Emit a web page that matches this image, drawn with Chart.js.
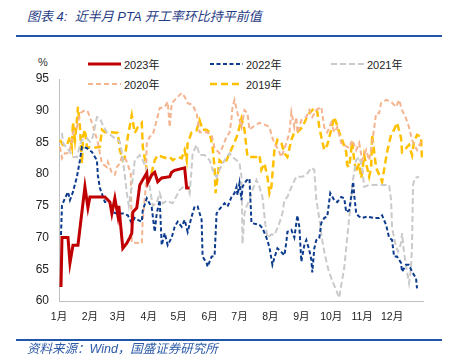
<!DOCTYPE html>
<html>
<head>
<meta charset="utf-8">
<script src="https://cdn.jsdelivr.net/npm/chart.js@4.4.0/dist/chart.umd.min.js"></script>
<style>
  body { margin: 0; width: 452px; height: 363px; background: #fff; position: relative; overflow: hidden;
         font-family: "Liberation Sans", Arial, "Noto Sans CJK SC", sans-serif; }
  .title { position: absolute; left: 27px; top: 9px; font-size: 13px; line-height: 16px; font-style: italic;
           color: #1f3c84; white-space: pre; font-family: "Liberation Sans", "Noto Sans CJK SC", sans-serif; }
  .rule { position: absolute; left: 16px; width: 426px; background: #1f56a8; }
  .source { position: absolute; left: 27px; top: 342px; font-size: 12.5px; line-height: 15px; font-style: italic;
            color: #2c5aa6; white-space: pre; font-family: "Liberation Sans", "Noto Sans CJK SC", sans-serif; }
  .unit { position: absolute; left: 38px; top: 56px; font-size: 11px; color: #333; }
  .leg { position: absolute; display: flex; align-items: center; font-size: 11px; color: #222; height: 14px; }
  .leg svg { margin-right: 3px; }
  canvas { position: absolute; left: 0; top: 0; }
</style>
</head>
<body>
<div class="title">图表 4:  近半月 PTA 开工率环比持平前值</div>
<div class="rule" style="top:35px;height:2px"></div>
<div class="unit">%</div>
<div id="legend"></div>
<canvas id="c" width="452" height="363"></canvas>
<div class="rule" style="top:339px;height:1.5px"></div>
<div class="source">资料来源：Wind，国盛证券研究所</div>

<script>
// month start (day of year) and labels
const monthStarts = [0, 31, 59, 90, 120, 151, 181, 212, 243, 273, 304, 334];
const monthLabels = ['1月', '2月', '3月', '4月', '5月', '6月', '7月', '8月', '9月', '10月', '11月', '12月'];
const yTicks = [60, 65, 70, 75, 80, 85, 90, 95];

// [day of year, operating rate %]
const y2023 = [[2,62.2],[3,70],[9,70],[11,66],[14,68.8],[19,68.8],[26,78],[29,74.7],[31,76.4],[39,76.4],[46,76.4],[51,75.6],[53,73.8],[56,76.2],[59,73.5],[60,75],[64,68.3],[68,69.1],[71,70],[73,70.7],[74,74],[78,74.7],[81,78.3],[85,79.4],[88,80.2],[89,78.6],[93,79.9],[96,80.3],[99,78.8],[103,79.4],[111,79.6],[113,80.3],[116,80.6],[126,81],[128,77.8],[131,77.8]];

const y2022 = [[2,70.4],[3,75.1],[6,76.2],[9,77.2],[11,75.9],[14,77.2],[18,79.6],[21,82.2],[23,84.3],[28,84.1],[33,83.5],[38,82.2],[39,79.8],[41,77.8],[46,75.6],[51,75.6],[53,74],[58,73.8],[64,73.8],[69,73.5],[73,72.3],[76,73.1],[79,72.8],[83,72.5],[84,74.3],[88,76.2],[93,74.7],[96,70.9],[98,73.8],[101,75.9],[103,68.8],[106,70.7],[109,68.8],[113,70],[116,71.7],[119,72.5],[123,71.7],[126,72.8],[129,70.9],[133,73.3],[136,74.9],[139,74.9],[143,72.8],[144,67],[148,66],[149,65.4],[153,67],[156,67.1],[158,73.8],[161,74.5],[166,75.4],[169,74.9],[173,76.4],[176,77],[178,78],[179,76.7],[181,78.6],[183,75.9],[184,78],[188,79],[191,79.3],[193,72.3],[201,72],[204,71.5],[208,70],[211,68.5],[214,65.7],[216,66.8],[219,68.3],[223,67.7],[226,67.2],[228,69.3],[229,70.9],[233,71.2],[236,70],[239,73.5],[241,71.7],[243,66.2],[246,68.8],[248,69.6],[251,68],[253,66.5],[254,64.5],[256,68.3],[258,69.6],[261,69.9],[263,72.3],[266,73.1],[269,73.3],[272,77],[276,75.9],[279,75.6],[283,76.4],[286,76.2],[288,74],[291,74.3],[294,77.5],[295,78.8],[296,76.7],[298,73.8],[301,73.3],[304,73.1],[309,73.3],[316,73.1],[321,73.1],[324,73.5],[328,72],[331,70],[334,69.6],[336,67],[339,67],[343,66],[344,64.6],[348,65.7],[351,65.7],[354,64.6],[358,63.6],[359,62]];

const y2021 = [[3,86.5],[4,84.9],[8,84.1],[11,83.5],[14,82.7],[18,82.7],[21,84.6],[23,85.4],[28,85.7],[31,85.1],[34,85.9],[38,89],[41,88.8],[44,87.7],[48,86.6],[54,85.9],[61,85.1],[64,82.5],[68,77],[70,75],[73,78],[76,82.2],[81,83],[84,82.2],[88,80.7],[91,78],[94,75],[98,75.5],[101,77],[104,75.4],[108,75.8],[114,75.4],[121,77.5],[128,78.5],[131,77],[133,81],[134,83.3],[138,84.6],[141,83],[146,83],[151,82.2],[154,80.7],[158,79.5],[161,80.7],[166,82.2],[171,83.3],[174,82.7],[178,82.2],[181,81.7],[183,79.6],[184,69],[186,73.8],[188,74.9],[191,75.9],[194,77.5],[198,79.1],[201,78],[204,76.4],[207,72],[209,70],[213,70.5],[216,70.4],[219,71.5],[221,72.3],[224,73.8],[226,75.9],[229,76.4],[234,78.3],[238,79.6],[244,79.6],[248,79.9],[253,81],[256,80.7],[258,76],[261,73],[264,69.5],[267,67],[270,65],[273,63.6],[278,61.7],[281,60.5],[283,62.5],[286,65.2],[289,70],[291,73.1],[293,76.2],[294,78.3],[298,82.2],[301,82.7],[304,81.1],[306,78],[311,78.3],[331,78.3],[333,75.9],[334,71.5],[338,68.5],[340,67.8],[343,69.1],[344,70.7],[346,67.6],[349,64.6],[351,62.8],[353,65.2],[354,68.8],[355,78.3],[357,79.4],[361,79.6]];

const y2020 = [[1,84.3],[3,82.5],[6,83.3],[10,83.3],[13,85.4],[14,86.6],[18,87.4],[21,89.6],[26,90.1],[29,89.8],[33,88.1],[36,86.6],[39,84.9],[43,81.7],[48,81.1],[49,81.9],[53,80.2],[56,79.9],[58,81.1],[61,81.7],[63,82.7],[66,82.7],[69,81.5],[72,80],[73,69.2],[83,69.1],[84,72.8],[87,78],[88,84.9],[91,85.9],[94,86.2],[98,88.5],[101,90.4],[106,90.6],[109,91.4],[111,87.4],[113,91.2],[118,92],[123,92.8],[126,92.2],[129,91.2],[134,90.9],[138,89.6],[141,86.6],[148,86.6],[153,86.2],[156,84.1],[161,83.3],[164,84.3],[168,85.9],[171,86.5],[173,88.8],[174,90.6],[176,91.7],[179,89.6],[183,87.4],[186,90.1],[189,89.6],[191,87],[194,87.4],[201,88.1],[208,87.7],[211,87.4],[214,85.7],[216,84.9],[219,84.1],[223,82.7],[228,84.9],[231,86.5],[233,89.8],[236,87.4],[238,89],[239,86.5],[243,88.5],[248,89],[251,90.1],[254,89],[258,90.1],[263,90.6],[266,87.4],[269,86.6],[273,88.1],[276,86.6],[279,87.4],[283,84.9],[286,84.6],[291,84.1],[294,85.4],[298,83.8],[301,84.9],[304,82.2],[308,83.8],[311,82.2],[314,84.9],[318,89.6],[321,89.6],[323,91.2],[328,91.7],[333,91.4],[338,90.6],[341,91.7],[344,90.1],[348,88.8],[351,87.4],[354,85.4],[359,83.8],[363,85.1]];

const y2019 = [[1,85.4],[4,84.6],[8,84.6],[11,85.9],[13,84.3],[14,88.2],[16,85.4],[18,88.5],[19,90.6],[21,87.4],[23,81.7],[24,85.9],[26,87],[28,84.3],[33,84.1],[41,84.3],[43,87],[46,86.6],[51,86.6],[59,86.5],[61,83.8],[64,82.2],[66,82.7],[69,85.9],[73,89.3],[76,86.5],[79,87.4],[83,88.1],[84,84.3],[88,80.7],[89,79.1],[93,80.3],[96,82.2],[99,83],[104,82.7],[108,82.5],[111,82.7],[114,82.2],[119,82.7],[123,82.5],[126,83.8],[128,82.2],[129,84.9],[133,86.6],[138,86.9],[141,88.5],[144,87],[148,87],[151,86.6],[154,84.3],[156,81],[157,77],[159,79.6],[161,82.2],[164,81.7],[168,82.2],[171,83.3],[174,84.3],[179,86.2],[183,88.8],[186,87],[189,82.7],[198,82.7],[201,83],[203,80.7],[206,81.7],[209,79.6],[211,77],[213,78],[216,83.8],[219,85.4],[223,84.9],[226,83.3],[229,82.7],[233,85.4],[236,86.6],[239,86.6],[244,87.4],[248,88.8],[251,89.6],[256,90.4],[259,89.8],[261,87.4],[263,85.9],[266,83.8],[269,84.6],[273,87],[276,89],[278,88.1],[281,86.6],[284,85.4],[288,83.5],[289,81.4],[291,81.1],[294,85.1],[296,82.2],[298,80.3],[301,81.7],[303,79.4],[304,80.2],[306,83],[311,79.6],[313,81],[314,86.2],[318,81],[321,79.9],[324,78.8],[326,80.7],[329,83.5],[333,86.2],[336,87],[339,88.1],[343,85.7],[344,83.5],[348,84.1],[351,84.6],[354,83],[356,85.1],[359,86.2],[363,85.9],[364,82.5]];

const series = [
  { label: '2023年', data: y2023, color: '#c00000', width: 3, dash: [] },
  { label: '2022年', data: y2022, color: '#0d3b8e', width: 2, dash: [4, 2.5] },
  { label: '2021年', data: y2021, color: '#cacaca', width: 2, dash: [6, 3] },
  { label: '2020年', data: y2020, color: '#f4b48f', width: 2, dash: [5, 3] },
  { label: '2019年', data: y2019, color: '#ffc000', width: 2.5, dash: [7, 4] },
];

// legend: 3 columns, 2 rows
const legendPos = [[88, 57], [210, 57], [331, 57], [88, 77], [210, 77]];
const legend = document.getElementById('legend');
series.forEach((s, i) => {
  const el = document.createElement('div');
  el.className = 'leg';
  el.style.left = legendPos[i][0] + 'px';
  el.style.top = legendPos[i][1] + 'px';
  el.innerHTML = `<svg width="33" height="6"><line x1="0" y1="3" x2="33" y2="3" stroke="${s.color}"
    stroke-width="${s.width}" stroke-dasharray="${s.dash.join(',') || 'none'}"/></svg><span>${s.label}</span>`;
  legend.appendChild(el);
});

new Chart(document.getElementById('c'), {
  type: 'line',
  data: {
    datasets: series.map(s => ({
      label: s.label,
      data: s.data.map(p => ({ x: p[0], y: p[1] })),
      borderColor: s.color,
      borderWidth: s.width,
      borderDash: s.dash,
      pointRadius: 0,
      tension: 0,
      fill: false,
    })),
  },
  options: {
    responsive: false,
    animation: false,
    devicePixelRatio: 1,
    layout: { padding: { left: 0, right: 29, top: 79, bottom: 22 } },
    plugins: { legend: { display: false }, tooltip: { enabled: false } },
    scales: {
      x: {
        type: 'linear',
        min: 0,
        max: 365,
        afterBuildTicks: s => { s.ticks = monthStarts.map(v => ({ value: v })); },
        afterFit: s => { s.height = 40; },
        grid: { display: false, drawTicks: false, tickLength: 0 },
        border: { color: '#bfbfbf', width: 1 },
        ticks: {
          autoSkip: false,
          maxRotation: 0,
          padding: 10,
          color: '#222',
          font: { size: 10.5, family: '"Liberation Sans", "Noto Sans CJK SC", sans-serif' },
          callback: (v, i) => monthLabels[i],
        },
      },
      y: {
        min: 60,
        max: 95,
        afterBuildTicks: s => { s.ticks = yTicks.map(v => ({ value: v })); },
        afterFit: s => { s.width = 59; },
        grid: { display: false, drawTicks: false, tickLength: 0 },
        border: { color: '#bfbfbf', width: 1 },
        ticks: {
          padding: 10,
          color: '#222',
          font: { size: 12, family: '"Liberation Sans", Arial, sans-serif' },
        },
      },
    },
  },
});
</script>
</body>
</html>
